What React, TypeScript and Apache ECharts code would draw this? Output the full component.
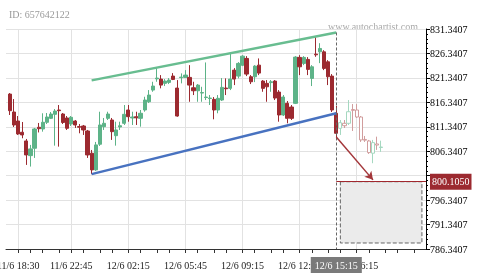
import React, { useEffect, useRef } from 'react';
import * as echarts from 'echarts';

// ---- axis definition ----
const BASE = 786.3407;
const Y_MAX = 831.3407;
const Y_STEP = 5;
const SLOT_COUNT = 104;
const REAL_START = 1;
const PROJ_START = 82;

const xLabelIndex = [3, 16, 30, 44, 58, 72, 86];
const xLabels = ['11/6 18:30', '11/6 22:45', '12/6 02:15', '12/6 05:45', '12/6 09:15', '12/6 12:45', '12/6 16:15'];
const xTickIndex = [3, 6, 9, 13, 16, 19, 23, 26, 30, 33, 37, 40, 44, 47, 51, 54, 58, 61, 65, 68, 72, 75, 79, 82, 86, 89, 93, 96, 100];
const lastBarIndex = 81;
const lastBarLabel = '12/6 15:15';

// ---- price candles ----
const realOpen = [818.03, 814.36, 812.52, 810.22, 808.44, 805.44, 806.95, 811.24, 810.89, 812.26, 813.07, 813.89, 814.77, 813.95, 813.14, 811.91, 812.52, 811.40, 811.50, 810.48, 805.93, 802.52, 807.77, 811.36, 813.07, 812.73, 809.52, 811.30, 812.05, 814.77, 813.14, 813.38, 813.07, 814.77, 816.46, 818.85, 821.14, 821.10, 820.22, 820.42, 821.71, 819.26, 821.40, 821.44, 821.44, 819.32, 818.71, 818.24, 817.32, 817.12, 816.95, 814.77, 816.81, 819.26, 819.20, 822.93, 821.71, 823.95, 825.32, 821.57, 821.57, 823.95, 820.69, 820.22, 820.38, 820.69, 818.44, 813.75, 816.14, 815.38, 816.14, 825.53, 824.30, 825.12, 821.24, 826.20, 826.67, 826.67, 824.63, 821.71, 814.10];
const realClose = [814.63, 811.71, 809.87, 809.67, 805.58, 806.81, 810.89, 810.95, 812.26, 813.34, 813.95, 814.56, 814.63, 812.22, 811.03, 813.28, 811.71, 811.24, 810.69, 805.58, 802.52, 807.63, 811.71, 812.05, 813.95, 810.34, 810.69, 811.56, 813.89, 813.40, 813.34, 813.18, 814.10, 816.81, 817.83, 819.67, 821.30, 819.87, 820.69, 820.89, 821.03, 813.54, 821.50, 821.91, 819.87, 818.71, 819.87, 818.34, 817.42, 817.22, 814.77, 817.16, 819.40, 819.12, 821.10, 821.10, 824.30, 825.79, 822.12, 820.55, 823.75, 822.32, 819.20, 819.52, 820.55, 817.22, 813.75, 817.42, 813.07, 813.07, 825.59, 823.61, 825.53, 823.08, 823.61, 826.06, 827.36, 823.28, 821.57, 814.77, 810.01];
const realLow = [813.75, 811.30, 809.67, 808.99, 803.54, 803.20, 804.97, 810.18, 810.34, 811.91, 812.93, 807.48, 807.28, 811.91, 810.69, 811.50, 811.10, 810.01, 809.67, 804.97, 801.65, 802.32, 807.42, 810.69, 812.73, 808.65, 807.48, 810.69, 811.71, 812.38, 811.71, 811.71, 811.36, 814.42, 816.20, 818.50, 820.55, 819.20, 819.67, 820.08, 820.89, 813.40, 820.22, 821.30, 816.46, 817.83, 816.46, 816.46, 816.81, 815.79, 812.87, 814.10, 816.61, 817.83, 818.85, 819.87, 821.24, 823.75, 821.71, 820.08, 820.48, 821.91, 818.50, 816.46, 818.50, 816.81, 812.38, 813.54, 812.05, 812.73, 815.99, 821.91, 823.95, 821.91, 819.67, 825.65, 824.36, 822.93, 819.87, 814.36, 808.65];
const realHigh = [818.24, 817.01, 813.54, 812.32, 808.85, 807.63, 811.10, 812.12, 814.10, 814.16, 814.36, 814.97, 815.79, 814.16, 813.54, 813.54, 812.73, 811.91, 811.71, 810.69, 806.60, 808.24, 814.42, 813.14, 814.42, 813.14, 812.38, 812.38, 815.79, 815.79, 814.42, 814.42, 814.77, 817.48, 818.85, 820.55, 823.48, 821.91, 821.10, 821.30, 822.32, 820.89, 822.26, 822.93, 823.95, 820.55, 820.08, 819.52, 824.50, 817.83, 817.42, 817.83, 821.30, 821.24, 826.34, 823.34, 824.57, 825.99, 825.79, 821.91, 823.95, 825.32, 820.89, 820.89, 820.89, 820.89, 818.85, 817.83, 816.61, 815.79, 825.79, 825.99, 825.79, 825.59, 823.95, 829.73, 828.44, 827.01, 824.97, 822.12, 815.59];

// ---- projected (pale) candles ----
const projOpen = [811.03, 812.05, 812.05, 814.87, 814.77, 813.34, 808.75, 808.44, 805.93, 807.83, 807.10];
const projClose = [812.18, 811.56, 814.42, 814.70, 813.34, 808.65, 808.60, 806.06, 808.10, 807.60, 807.20];
const projLow = [809.67, 811.09, 811.71, 810.48, 813.14, 808.24, 808.24, 805.79, 803.89, 806.61, 806.20];
const projHigh = [812.73, 812.73, 816.81, 815.99, 815.99, 813.54, 809.46, 808.65, 808.65, 809.32, 808.50];

// ---- pattern ----
const upperLine: [number, number][] = [[21, 820.83], [81, 830.63]];
const lowerLine: [number, number][] = [[21, 801.65], [81, 814.10]];
const forecastArrow: [number, number][] = [[81, 809.26], [90, 800.48]];
const targetLevel = 800.105;
const targetLabel = '800.1050';
const targetLine: number[] = [81, 103];
const targetZone: [number, number][] = [[82, 800.105], [102, 787.57]];

const GREEN = '#5db388';
const RED = '#9c2a30';
const PALE_GREEN = '#a5d8c0';
const PALE_RED = '#d19d9d';
const FONT = '"Liberation Serif", "Times New Roman", serif';

export default function App() {
  const ref = useRef<HTMLDivElement>(null);

  useEffect(() => {
    const chart = echarts.init(ref.current!, null, { renderer: 'svg' });
    const rel = (v: number) => +(v - BASE).toFixed(4);
    const labelSet = new Set(xLabelIndex);
    const tickSet = new Set(xTickIndex);
    const categories = Array.from({ length: SLOT_COUNT }, (_, i) => {
      const k = xLabelIndex.indexOf(i);
      return k >= 0 ? xLabels[k] : '';
    });
    const empty = ['-', '-', '-', '-'];
    const realData = categories.map((_, i) => {
      const k = i - REAL_START;
      if (k >= 0 && k < realOpen.length) return [rel(realOpen[k]), rel(realClose[k]), rel(realLow[k]), rel(realHigh[k])];
      return empty;
    });
    const projData = categories.map((_, i) => {
      const k = i - PROJ_START;
      if (k >= 0 && k < projOpen.length) return [rel(projOpen[k]), rel(projClose[k]), rel(projLow[k]), rel(projHigh[k])];
      return empty;
    });

    const lineItem = (pts: [number, number][], style: any, endExtra: any = {}) => [
      { coord: [pts[0][0], rel(pts[0][1])], lineStyle: style, symbol: 'none' },
      { coord: [pts[1][0], rel(pts[1][1])], lineStyle: style, symbol: 'none', ...endExtra },
    ];

    chart.setOption({
      animation: false,
      grid: { left: 6, right: 54, top: 29, bottom: 26, containLabel: false, outerBoundsMode: 'none' },
      graphic: [
        { type: 'text', left: 9, top: 9, style: { text: 'ID: 657642122', fill: '#999', font: `10px ${FONT}` } },
        { type: 'text', right: 62, top: 21, style: { text: 'www.autochartist.com', fill: '#aaa', font: `10px ${FONT}` } },
      ],
      xAxis: {
        type: 'category',
        data: categories,
        boundaryGap: false,
        axisLine: { show: true, lineStyle: { color: '#333', width: 1 } },
        axisTick: { show: true, length: 4, interval: (i: number) => tickSet.has(i), lineStyle: { color: '#333' } },
        axisLabel: { interval: 0, margin: 11, fontFamily: FONT, fontSize: 10, color: '#222' },
        splitLine: { show: true, interval: (i: number) => labelSet.has(i), lineStyle: { color: '#e2e2e2' } },
      },
      yAxis: {
        type: 'value',
        position: 'right',
        min: 0,
        max: Math.round(Y_MAX - BASE),
        interval: Y_STEP,
        axisLine: { show: true, lineStyle: { color: '#000' } },
        axisTick: { show: true, length: 4, lineStyle: { color: '#000' } },
        minorTick: { show: true, splitNumber: 5, length: 2, lineStyle: { color: '#000' } },
        axisLabel: {
          margin: 4,
          fontFamily: FONT,
          fontSize: 10,
          color: '#000',
          // the tick label hidden under the target price tag is not drawn
          formatter: (v: number) => (Math.abs(v + BASE - targetLevel) < 2 ? '' : (v + BASE).toFixed(4)),
        },
        splitLine: { show: true, lineStyle: { color: '#e2e2e2' } },
      },
      series: [
        {
          type: 'candlestick',
          data: realData,
          barWidth: 3.7,
          itemStyle: { color: GREEN, color0: RED, borderColor: GREEN, borderColor0: RED, borderWidth: 1 },
          markArea: {
            silent: true,
            itemStyle: { color: '#ebebeb', borderColor: '#666', borderWidth: 1, borderType: 'dashed' },
            data: [[{ coord: [targetZone[0][0], rel(targetZone[0][1])] }, { coord: [targetZone[1][0], rel(targetZone[1][1])] }]],
          },
          markLine: {
            silent: true,
            symbol: ['none', 'none'],
            label: { show: false },
            data: [
              lineItem(upperLine, { color: '#68bd90', width: 2.5, type: 'solid' }),
              lineItem(lowerLine, { color: '#4872c0', width: 2.5, type: 'solid' }),
              [
                { coord: [lastBarIndex, rel(upperLine[1][1])], lineStyle: { color: '#666', width: 1, type: [3, 2] }, symbol: 'none' },
                {
                  coord: [lastBarIndex, 0],
                  lineStyle: { color: '#666', width: 1, type: [3, 2] },
                  symbol: 'none',
                  label: { show: true, position: 'end', distance: 8, formatter: lastBarLabel, backgroundColor: '#7a7a7a', color: '#fff', padding: [3, 4, 3, 4], fontFamily: FONT, fontSize: 10 },
                },
              ],
              [
                { coord: [targetLine[0], rel(targetLevel)], lineStyle: { color: '#a0282e', width: 1, type: 'solid' }, symbol: 'none' },
                {
                  coord: [targetLine[1], rel(targetLevel)],
                  lineStyle: { color: '#a0282e', width: 1, type: 'solid' },
                  symbol: 'none',
                  label: { show: true, position: 'end', distance: 4, formatter: targetLabel, backgroundColor: '#9c2a30', color: '#fff', padding: [3, 2, 3, 2], fontFamily: FONT, fontSize: 10 },
                },
              ],
              lineItem(forecastArrow, { color: '#a3363a', width: 1.5, type: 'solid' }, { symbol: 'arrow', symbolSize: [7, 8] }),
            ],
          },
        },
        {
          type: 'candlestick',
          data: projData,
          barWidth: 3.7,
          itemStyle: { color: '#ffffff', color0: '#ffffff', borderColor: PALE_GREEN, borderColor0: PALE_RED, borderWidth: 1 },
        },
      ],
    });

    return () => chart.dispose();
  }, []);

  return <div ref={ref} style={{ position: 'fixed', left: 0, top: 0, width: 480, height: 275 }} />;
}
